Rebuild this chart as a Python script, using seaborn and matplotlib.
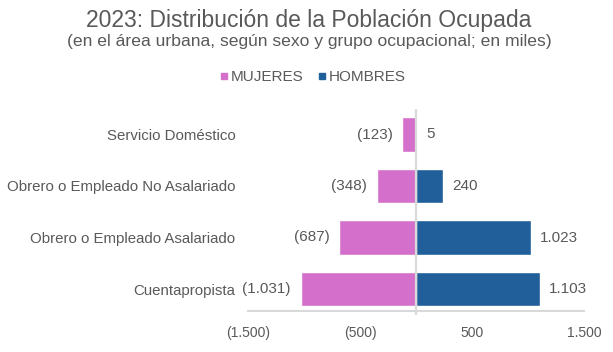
import matplotlib
matplotlib.use("Agg")
import matplotlib.pyplot as plt
from matplotlib.lines import Line2D
import seaborn as sns
import pandas as pd

categorias = ["Servicio Doméstico", "Obrero o Empleado No Asalariado",
              "Obrero o Empleado Asalariado", "Cuentapropista"]
mujeres = [123, 348, 687, 1031]
hombres = [5, 240, 1023, 1103]
series = ["MUJERES", "HOMBRES"]
colores = ["#D46FCB", "#215F9A"]
xticks = [-1500, -500, 500, 1500]
titulo = "2023: Distribución de la Población Ocupada"
subtitulo = "(en el área urbana, según sexo y grupo ocupacional; en miles)"

TXT = "#595959"
GRID = "#D9D9D9"

def fmt(v):
    s = f"{abs(v):,.0f}".replace(",", ".")
    return f"({s})" if v < 0 else s

df = pd.DataFrame({
    "grupo": categorias * 2,
    "sexo": [series[0]] * len(categorias) + [series[1]] * len(categorias),
    "valor": [-v for v in mujeres] + hombres,
})

sns.set_style("white")
plt.rcParams["font.family"] = ["Liberation Sans", "DejaVu Sans"]

W, H = 613, 352
fig = plt.figure(figsize=(W / 100, H / 100), dpi=100)
ax = fig.add_axes([248 / W, 1 - 314.75 / H, (584 - 248) / W, (314.75 - 108.75) / H])

sns.barplot(data=df, y="grupo", x="valor", hue="sexo", hue_order=series,
            order=categorias, palette=colores, dodge=False, width=0.67,
            orient="h", legend=False, ax=ax, saturation=1)
ax.set_ylim(len(categorias) - 0.5, -0.5)

for cont in ax.containers:
    labels = [fmt(b.get_width()) for b in cont]
    ax.bar_label(cont, labels=labels, padding=7, fontsize=11, color=TXT)

ax.set_xlim(-1500, 1500)
ax.set_xticks(xticks)
ax.set_xticklabels([fmt(v) for v in xticks], fontsize=11)
ax.set_xlabel("")
ax.set_ylabel("")
ax.tick_params(axis="y", length=0, pad=9, labelsize=10.8, labelcolor=TXT)
ax.tick_params(axis="x", direction="in", length=4, width=1.5, color=GRID,
               labelcolor=TXT, pad=10.5)

for s in ["top", "right", "left"]:
    ax.spines[s].set_visible(False)
ax.spines["bottom"].set_color(GRID)
ax.spines["bottom"].set_linewidth(1.5)
ax.spines["bottom"].set_position(("outward", -2.7))
ax.axvline(0, color=GRID, lw=1.6, zorder=3)

cx = 309 / W
fig.text(cx, 1 - 26.7 / H, titulo, ha="center", va="baseline", fontsize=16.5, color=TXT)
fig.text(cx, 1 - 46 / H, subtitulo, ha="center", va="baseline", fontsize=12.6, color=TXT)

handles = [Line2D([], [], marker="s", linestyle="none", markersize=4.6,
                  markerfacecolor=c, markeredgecolor=c) for c in colores]
fig.legend(handles, series, loc="center", bbox_to_anchor=(313 / W, 1 - 77 / H),
           ncol=2, frameon=False, fontsize=11, labelcolor=TXT,
           handletextpad=0.2, columnspacing=1.0, handlelength=0.5,
           borderaxespad=0, borderpad=0)

fig.savefig("out.png", dpi=100)
